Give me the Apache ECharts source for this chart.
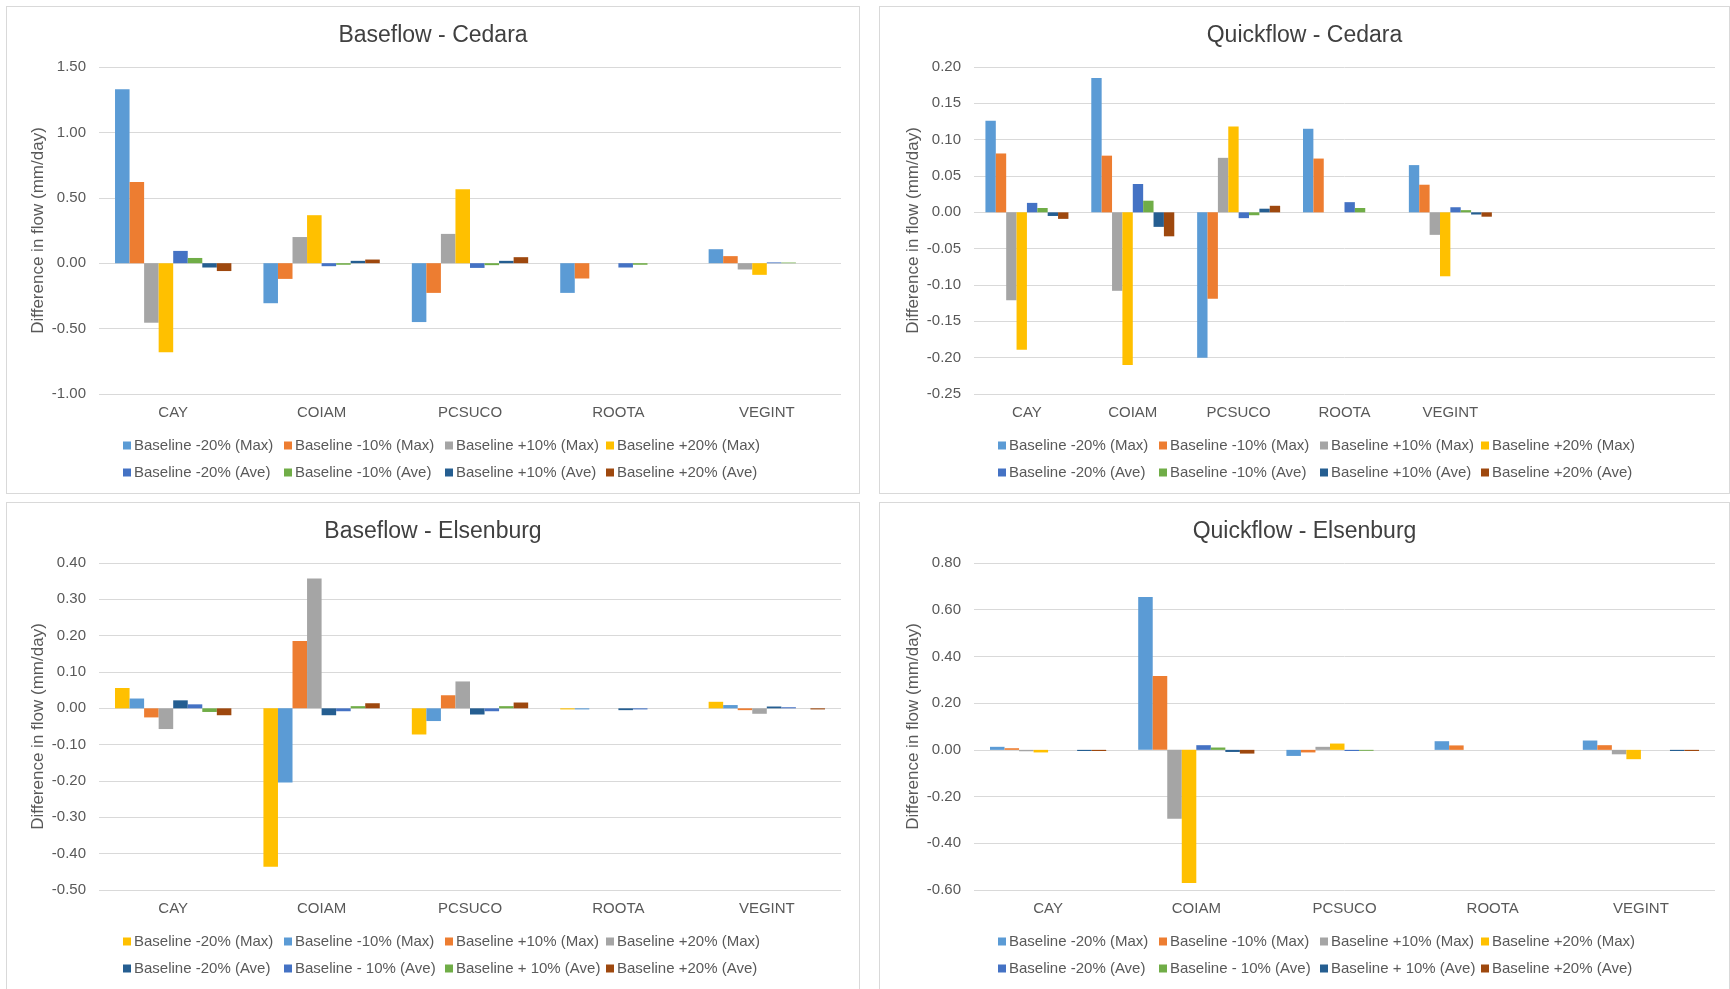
<!DOCTYPE html>
<html><head><meta charset="utf-8">
<script src="https://cdn.jsdelivr.net/npm/echarts@6/dist/echarts.min.js"></script>
<style>
html,body{margin:0;padding:0;background:#fff;}
body{width:1730px;height:989px;overflow:hidden;position:relative;}
.p{position:absolute;border:1px solid #d9d9d9;box-sizing:border-box;background:#fff;}
</style></head><body>
<div id="c1" class="p" style="left:6px;top:6px;width:854px;height:488px"></div>
<div id="c2" class="p" style="left:879px;top:6px;width:851px;height:488px"></div>
<div id="c3" class="p" style="left:6px;top:502px;width:854px;height:490px"></div>
<div id="c4" class="p" style="left:879px;top:502px;width:851px;height:490px"></div>
<script>
// ---------- DATA ----------
const categories = ["CAY", "COIAM", "PCSUCO", "ROOTA", "VEGINT"];
const categoriesQuickCedara = ["CAY", "COIAM", "PCSUCO", "ROOTA", "VEGINT", "", ""];

// Baseflow - Cedara
const bcNames = ["Baseline -20% (Max)", "Baseline -10% (Max)", "Baseline +10% (Max)", "Baseline +20% (Max)",
                 "Baseline -20% (Ave)", "Baseline -10% (Ave)", "Baseline +10% (Ave)", "Baseline +20% (Ave)"];
const bcMinus20Max = [1.33, -0.306, -0.45, -0.227, 0.107];
const bcMinus10Max = [0.62, -0.12, -0.227, -0.117, 0.054];
const bcPlus10Max  = [-0.455, 0.20, 0.224, 0, -0.048];
const bcPlus20Max  = [-0.68, 0.367, 0.566, 0, -0.089];
const bcMinus20Ave = [0.094, -0.023, -0.036, -0.033, 0.006];
const bcMinus10Ave = [0.04, -0.012, -0.015, -0.012, 0.005];
const bcPlus10Ave  = [-0.033, 0.018, 0.018, 0, 0];
const bcPlus20Ave  = [-0.06, 0.028, 0.046, 0, 0];
const bcTicks = {min: -1, max: 1.5, interval: 0.5};

// Quickflow - Cedara
const qcNames = bcNames;
const qcMinus20Max = [0.126, 0.185, -0.200, 0.115, 0.065];
const qcMinus10Max = [0.081, 0.078, -0.119, 0.074, 0.038];
const qcPlus10Max  = [-0.121, -0.108, 0.075, 0, -0.031];
const qcPlus20Max  = [-0.189, -0.210, 0.118, 0, -0.088];
const qcMinus20Ave = [0.013, 0.039, -0.008, 0.014, 0.007];
const qcMinus10Ave = [0.006, 0.016, -0.004, 0.006, 0.003];
const qcPlus10Ave  = [-0.005, -0.020, 0.005, 0, -0.003];
const qcPlus20Ave  = [-0.009, -0.033, 0.009, 0, -0.006];
const qcTicks = {min: -0.25, max: 0.2, interval: 0.05};

// Baseflow - Elsenburg
const beNames = ["Baseline -20% (Max)", "Baseline -10% (Max)", "Baseline +10% (Max)", "Baseline +20% (Max)",
                 "Baseline -20% (Ave)", "Baseline - 10% (Ave)", "Baseline + 10% (Ave)", "Baseline +20% (Ave)"];
const beMinus20Max = [0.056, -0.436, -0.072, -0.003, 0.018];
const beMinus10Max = [0.027, -0.204, -0.035, -0.003, 0.009];
const bePlus10Max  = [-0.025, 0.185, 0.036, 0, -0.005];
const bePlus20Max  = [-0.057, 0.357, 0.074, 0, -0.015];
const beMinus20Ave = [0.022, -0.019, -0.017, -0.005, 0.005];
const beMinus10Ave = [0.011, -0.008, -0.008, -0.003, 0.003];
const bePlus10Ave  = [-0.010, 0.006, 0.006, 0, 0];
const bePlus20Ave  = [-0.019, 0.014, 0.016, 0, -0.003];
const beTicks = {min: -0.5, max: 0.4, interval: 0.1};

// Quickflow - Elsenburg
const qeNames = ["Baseline -20% (Max)", "Baseline -10% (Max)", "Baseline +10% (Max)", "Baseline +20% (Max)",
                 "Baseline -20% (Ave)", "Baseline - 10% (Ave)", "Baseline + 10% (Ave)", "Baseline +20% (Ave)"];
const qeMinus20Max = [0.013, 0.654, -0.026, 0.037, 0.040];
const qeMinus10Max = [0.007, 0.316, -0.011, 0.019, 0.020];
const qePlus10Max  = [-0.006, -0.295, 0.013, 0, -0.019];
const qePlus20Max  = [-0.011, -0.570, 0.027, 0, -0.040];
const qeMinus20Ave = [0, 0.020, -0.005, 0, 0];
const qeMinus10Ave = [0, 0.010, -0.004, 0, 0];
const qePlus10Ave  = [-0.005, -0.009, 0, 0, -0.005];
const qePlus20Ave  = [-0.005, -0.016, 0, 0, -0.005];
const qeTicks = {min: -0.6, max: 0.8, interval: 0.2};

// ---------- STYLE ----------
const C = {lb: "#5B9BD5", or: "#ED7D31", gr: "#A5A5A5", ye: "#FFC000", bl: "#4472C4", gn: "#70AD47", db: "#255E91", br: "#9E480E"};
const stdColors = [C.lb, C.or, C.gr, C.ye, C.bl, C.gn, C.db, C.br];
const beColors  = [C.ye, C.lb, C.or, C.gr, C.db, C.bl, C.gn, C.br];
const FONT = "'Liberation Sans', Arial, sans-serif";
const TXT = "#595959";

function build(el, title, cats, names, values, colors, ticks, layout) {
  const chart = echarts.init(document.getElementById(el), null, {renderer: 'canvas'});
  const series = names.map((n, i) => ({
    name: n, type: 'bar', data: values[i],
    barGap: '0%', barCategoryGap: '21.6%',
    itemStyle: {color: colors[i]}, emphasis: {disabled: true},
    animation: false
  }));
  const legends = [0, 1, 2, 3].map(k => ({
    orient: 'vertical', left: layout.legLeft + k * 161, top: 426,
    data: [names[k], names[k + 4]],
    icon: 'rect', itemWidth: 8, itemHeight: 8, itemGap: 12,
    selectedMode: false,
    textStyle: {color: TXT, fontSize: 15, fontFamily: FONT, padding: [0, 0, 0, -2]}
  }));
  chart.setOption({
    animation: false,
    color: colors,
    textStyle: {fontFamily: FONT},
    title: {text: title, left: 'center', top: 12,
      textStyle: {fontSize: 23, fontWeight: 'normal', color: '#404040', fontFamily: FONT}},
    legend: legends,
    grid: {left: layout.left, top: 60, width: layout.width, height: 327, containLabel: false, outerBoundsMode: 'none'},
    xAxis: {type: 'category', data: cats,
      axisLine: {show: false}, axisTick: {show: false},
      axisLabel: {color: TXT, fontSize: 15, fontFamily: FONT, margin: 11, interval: 0},
      splitLine: {show: false}},
    yAxis: {type: 'value', min: ticks.min, max: ticks.max, interval: ticks.interval,
      name: 'Difference in flow (mm/day)', nameLocation: 'middle', nameGap: 52, nameRotate: 90,
      nameMoveOverlap: false,
      nameTextStyle: {color: TXT, fontSize: 17, fontFamily: FONT},
      axisLine: {show: false}, axisTick: {show: false},
      axisLabel: {color: TXT, fontSize: 15, fontFamily: FONT, margin: 13,
        formatter: v => (Math.round(v * 100) / 100).toFixed(2)},
      splitLine: {show: true, lineStyle: {color: '#d9d9d9', width: 1}}},
    series: series
  });
}

build('c1', 'Baseflow - Cedara', categories, bcNames,
  [bcMinus20Max, bcMinus10Max, bcPlus10Max, bcPlus20Max, bcMinus20Ave, bcMinus10Ave, bcPlus10Ave, bcPlus20Ave],
  stdColors, bcTicks, {left: 92, width: 742, legLeft: 111});
build('c2', 'Quickflow - Cedara', categoriesQuickCedara, qcNames,
  [qcMinus20Max, qcMinus10Max, qcPlus10Max, qcPlus20Max, qcMinus20Ave, qcMinus10Ave, qcPlus10Ave, qcPlus20Ave],
  stdColors, qcTicks, {left: 94, width: 741, legLeft: 113});
build('c3', 'Baseflow - Elsenburg', categories, beNames,
  [beMinus20Max, beMinus10Max, bePlus10Max, bePlus20Max, beMinus20Ave, beMinus10Ave, bePlus10Ave, bePlus20Ave],
  beColors, beTicks, {left: 92, width: 742, legLeft: 111});
build('c4', 'Quickflow - Elsenburg', categories, qeNames,
  [qeMinus20Max, qeMinus10Max, qePlus10Max, qePlus20Max, qeMinus20Ave, qeMinus10Ave, qePlus10Ave, qePlus20Ave],
  stdColors, qeTicks, {left: 94, width: 741, legLeft: 113});
</script>
</body></html>
